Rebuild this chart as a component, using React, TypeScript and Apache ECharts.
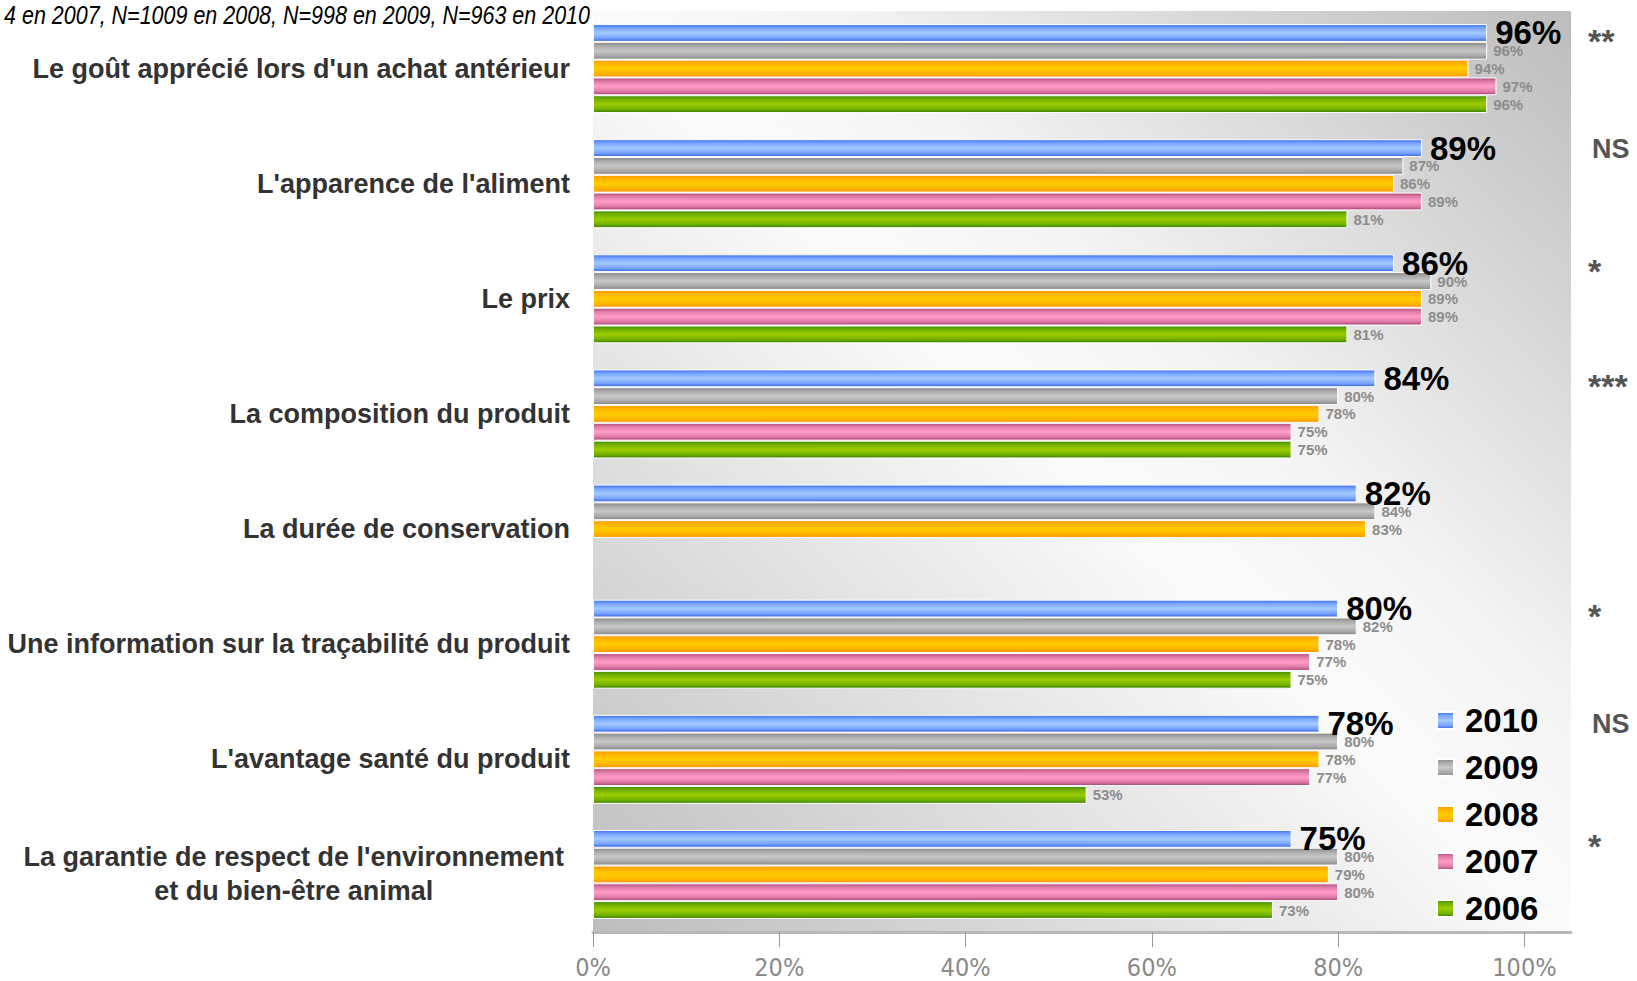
import React, { useEffect, useRef } from "react";
import * as echarts from "echarts";

const categories = [
  "Le goût apprécié lors d'un achat antérieur",
  "L'apparence de l'aliment",
  "Le prix",
  "La composition du produit",
  "La durée de conservation",
  "Une information sur la traçabilité du produit",
  "L'avantage santé du produit",
  "La garantie de respect de l'environnement\net du bien-être animal",
];
const years = ["2010", "2009", "2008", "2007", "2006"];
const v2010 = [96, 89, 86, 84, 82, 80, 78, 75];
const v2009 = [96, 87, 90, 80, 84, 82, 80, 80];
const v2008 = [94, 86, 89, 78, 83, 78, 78, 79];
const v2007 = [97, 89, 89, 75, null, 77, 77, 80];
const v2006 = [96, 81, 81, 75, null, 75, 53, 73];
const significance = ["**", "NS", "*", "***", "", "*", "NS", "*"];
const xTicks = [0, 20, 40, 60, 80, 100];
const sampleNote = "4 en 2007, N=1009 en 2008, N=998 en 2009, N=963 en 2010";

const FONT = "'Liberation Sans', Arial, sans-serif";

function grad(edgeTop: string, mid: string, edgeBottom: string, light: string) {
  return new echarts.graphic.LinearGradient(0, 0, 0, 1, [
    { offset: 0, color: edgeTop },
    { offset: 0.2, color: light },
    { offset: 0.5, color: mid },
    { offset: 0.8, color: light },
    { offset: 1, color: edgeBottom },
  ]);
}

const colors = [
  grad("#3f6cf0", "#a4caff", "#3a62e0", "#76a4ff"),
  grad("#858585", "#c8c8c8", "#858585", "#a9a9a9"),
  grad("#ff9500", "#ffcc00", "#ff9400", "#ffb400"),
  grad("#ad4c78", "#ff9dca", "#a44470", "#e07aa8"),
  grad("#3b8a00", "#9acc00", "#368000", "#72b000"),
];

export default function App() {
  const ref = useRef<HTMLDivElement>(null);
  useEffect(() => {
    document.body.style.margin = "0";
    const chart = echarts.init(ref.current!, undefined, { renderer: "svg" });
    const seriesData = [v2010, v2009, v2008, v2007, v2006];
    chart.setOption({
      animation: false,
      textStyle: { fontFamily: FONT },
      grid: {
        left: 593,
        right: 66,
        top: 11,
        bottom: 49,
        show: true,
        borderWidth: 0,
        backgroundColor: new echarts.graphic.LinearGradient(0, 1, 1, 0, [
          { offset: 0, color: "#bdbdbd" },
          { offset: 0.5, color: "#fbfbfb" },
          { offset: 0.62, color: "#f4f4f4" },
          { offset: 1, color: "#bcbcbc" },
        ]),
      },
      legend: {
        data: years,
        orient: "vertical",
        left: 1431,
        top: 699,
        itemWidth: 17,
        itemHeight: 17,
        itemGap: 14,
        icon: "rect",
        textStyle: {
          fontSize: 33,
          fontWeight: "bold",
          color: "#000",
          fontFamily: FONT,
          padding: [0, 0, 0, 6],
        },
      },
      graphic: [
        {
          type: "text",
          x: 590,
          y: 15,
          scaleX: 0.86,
          style: {
            text: sampleNote,
            font: "italic 25px 'Liberation Sans', Arial, sans-serif",
            fill: "#000",
            textAlign: "right",
            textVerticalAlign: "middle",
          },
        },
      ],
      xAxis: {
        type: "value",
        min: 0,
        max: 105,
        interval: 20,
        splitLine: { show: false },
        axisLine: { show: true, lineStyle: { color: "#b8b8b8", width: 3 } },
        axisTick: {
          show: true,
          length: 15,
          lineStyle: { color: "#9a9a9a", width: 1 },
          customValues: xTicks,
        },
        axisLabel: {
          customValues: xTicks,
          formatter: (v: number) => v + "%",
          fontSize: 25,
          color: "#8a8a8a",
          margin: 23,
          fontFamily: "'Liberation Sans Narrow', 'DejaVu Sans Condensed', sans-serif",
        },
      },
      yAxis: [
        {
          type: "category",
          data: categories,
          inverse: true,
          position: "left",
          axisLine: { show: false },
          axisTick: { show: false },
          axisLabel: {
            margin: 23,
            fontSize: 27,
            fontWeight: "bold",
            color: "#333",
            fontFamily: FONT,
            formatter: (v: string) =>
              v.includes("\n")
                ? v
                    .split("\n")
                    .map((l) => `{c|${l}}`)
                    .join("\n")
                : v,
            rich: {
              c: {
                fontSize: 27,
                fontWeight: "bold",
                color: "#333",
                fontFamily: FONT,
                align: "center",
                lineHeight: 34,
                padding: [0, 6, 0, 0],
              },
            },
          },
        },
        {
          type: "category",
          data: categories,
          inverse: true,
          position: "right",
          axisLine: { show: false },
          axisTick: { show: false },
          axisLabel: {
            margin: 17,
            formatter: (_v: string, i: number) => {
              const s = significance[i];
              if (!s) return "";
              return s.startsWith("*") ? `{a|${s}}` : `{s|${s}}`;
            },
            rich: {
              s: {
                fontSize: 27,
                fontWeight: "bold",
                color: "#555",
                fontFamily: FONT,
                padding: [0, 0, 70, 4],
              },
              a: {
                fontSize: 34,
                fontWeight: "bold",
                color: "#555",
                fontFamily: FONT,
                padding: [0, 0, 56, 0],
              },
            },
          },
        },
      ],
      series: years.map((y, si) => ({
        name: y,
        type: "bar",
        data: seriesData[si],
        yAxisIndex: 0,
        barGap: "0%",
        barCategoryGap: "22.7%",
        z: si === 0 ? 5 : 2,
        itemStyle: { color: colors[si], borderColor: "#fff", borderWidth: 1 },
        label:
          si === 0
            ? {
                show: true,
                position: "right",
                distance: 8,
                formatter: "{c}%",
                fontSize: 33,
                fontWeight: "bold",
                color: "#000",
                fontFamily: FONT,
              }
            : {
                show: true,
                position: "right",
                distance: 6,
                formatter: "{c}%",
                fontSize: 15,
                fontWeight: "bold",
                color: "#8c8c8c",
                fontFamily: FONT,
              },
      })),
    });
    return () => chart.dispose();
  }, []);
  return <div ref={ref} style={{ width: 1637, height: 981 }} />;
}
